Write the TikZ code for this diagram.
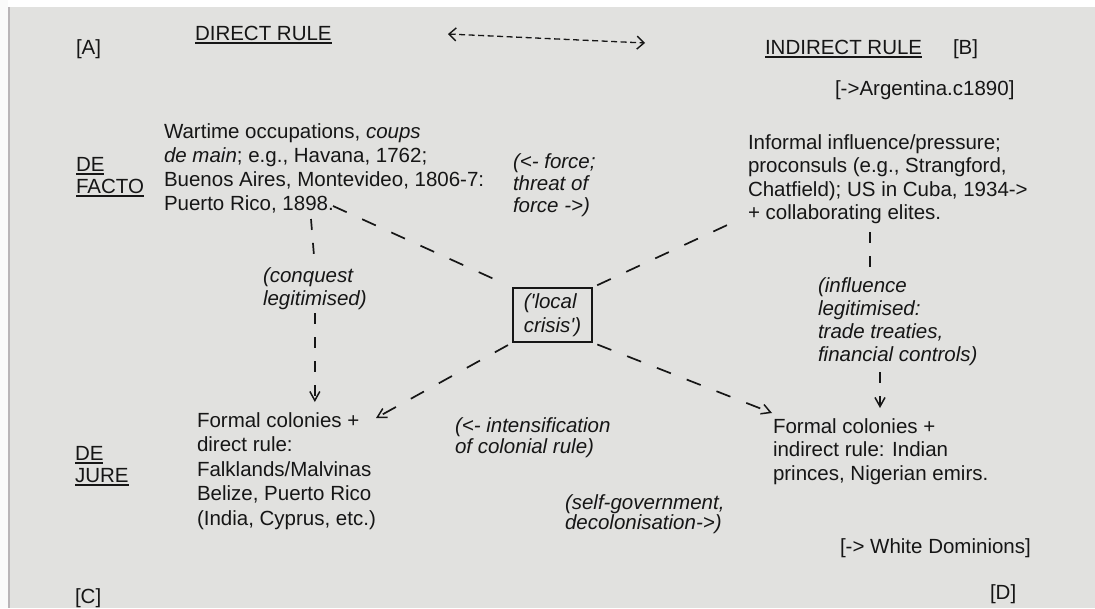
\documentclass[tikz,border=0pt]{standalone}
\usepackage{fontspec}
\setmainfont{Liberation Sans}
\usetikzlibrary{arrows.meta}
\definecolor{ink}{HTML}{161616}
\definecolor{page}{HTML}{E1E1DF}
\definecolor{edge}{HTML}{B9B5B8}
\newcommand\fl{\rule{0pt}{16pt}}
\newcommand\ulx[1]{\setbox0\hbox{#1}\rlap{\rule[-3.5pt]{\wd0}{1.7pt}}\box0}
\begin{document}
\begin{tikzpicture}[x=1pt,y=-1pt,
  txt/.style={font=\fontsize{20.5}{#1}\selectfont, inner sep=0pt, outer sep=0pt,
    anchor=north west, align=left, text=ink},
  txt/.default=24,
  itx/.style={txt=#1, font=\fontsize{20.5}{#1}\selectfont\itshape},
  itx/.default=23,
  crisisbox/.style={draw=ink, line width=1.3pt, minimum width=79pt, minimum height=54pt,
    inner sep=0pt, align=left, text=ink, font=\fontsize{20.5}{24}\selectfont\itshape},
  dsh/.style={draw=ink, line width=1.7pt, dash pattern=on 15pt off 17pt},
  vd/.style={draw=ink, line width=1.7pt, dash pattern=on 11pt off 13pt},
  tip/.style={-{Straight Barb[length=9pt,width=10pt,line width=1.5pt]}},
  duo/.style={{Straight Barb[length=7pt,width=13pt,line width=1.4pt]}-{Straight Barb[length=7pt,width=13pt,line width=1.4pt]}}
]
\useasboundingbox (0,0) rectangle (1095,608);
% page / photo background
\fill[page] (0,0) rectangle (1095,608);
\fill[white] (0,0) rectangle (1095,7);
\fill[white!85!page] (0,0) rectangle (8,608);
\fill[edge] (8,7) rectangle (10,608);

% headings and corner labels
\node[txt] (A) at (76,38) {\fl[A]};
\node[txt] (dr) at (195,24) {\fl\ulx{DIRECT RULE}};
\node[txt] (ir) at (765,38) {\fl\ulx{INDIRECT RULE}};
\node[txt] (B) at (953,38) {\fl[B]};
\node[txt] (arg) at (835,79) {\fl[->Argentina.c1890]};
\node[txt] (C) at (75,587) {\fl[C]};
\node[txt] (D) at (990,583) {\fl[D]};
\node[txt] (wd) at (840,537) {\fl[-> White Dominions]};

% row labels
\node[txt=22] (defacto) at (76,155) {\fl\ulx{DE}\\\ulx{FACTO}};
\node[txt=22] (dejure) at (75,444) {\fl\ulx{DE}\\\ulx{JURE}};

% four quadrant texts
\node[txt=24] (dfl) at (164,122) {\fl Wartime occupations, \textit{coups}\\\textit{de main}; e.g., Havana, 1762;\\Buenos Aires, Montevideo, 1806-7:\\Puerto Rico, 1898.};
\node[txt=23.5] (inf) at (748,133) {\fl Informal influence/pressure;\\proconsuls (e.g., Strangford,\\Chatfield); US in Cuba, 1934->\\+ collaborating elites.};
\node[txt=24.6] (fcd) at (197,411) {\fl Formal colonies +\\direct rule:\\Falklands/Malvinas\\Belize, Puerto Rico\\(India, Cyprus, etc.)};
\node[txt=23.5] (fci) at (773,417) {\fl Formal colonies +\\indirect rule: Indian\\princes, Nigerian emirs.};

% italic annotations
\node[itx=22] (force) at (513,152) {\fl(<- force;\\threat of\\force ->)};
\node[itx=23] (conq) at (263,266) {\fl(conquest\\legitimised)};
\node[itx=23.3] (infl) at (818,276) {\fl(influence\\legitimised:\\trade treaties,\\financial controls)};
\node[itx=21] (intens) at (455,416) {\fl(<- intensification\\of colonial rule)};
\node[itx=20] (selfg) at (565,493) {\fl(self-government,\\decolonisation->)};

% centre box
\node[crisisbox] (crisis) at (552.5,315) {(\textquotesingle local\\crisis\textquotesingle)};

% connectors
\coordinate (hl) at (448,34);
\coordinate (hr) at (645,43);
\draw[ink, line width=1.3pt, dash pattern=on 6pt off 3.5pt, duo] (hl) -- (hr);

\coordinate (ul) at (333,206);
\coordinate (ur) at (736,221);
\coordinate (ll) at (376,418);
\coordinate (lr) at (772,413);
\draw[dsh, shorten >=5pt] (ul) -- (crisis.north west);
\draw[dsh, shorten <=5pt] (crisis.north east) -- (ur);
\draw[dsh, tip, shorten <=5pt] (crisis.south west) -- (ll);
\draw[dsh, tip, shorten <=5pt] (crisis.south east) -- (lr);

\coordinate (lt) at (311,219);
\draw[vd, shorten >=10pt] (lt) -- (conq.north);
\draw[vd, tip, shorten <=4pt, shorten >=9pt] (conq.south) -- (conq.south |- fcd.north);

\coordinate (rt) at (870,232);
\draw[vd, shorten >=6pt] (rt) -- (infl.north -| rt);
\coordinate (rb) at (880,372);
\draw[vd, tip, shorten >=9pt] (rb) -- (rb |- fci.north);
\end{tikzpicture}
\end{document}
